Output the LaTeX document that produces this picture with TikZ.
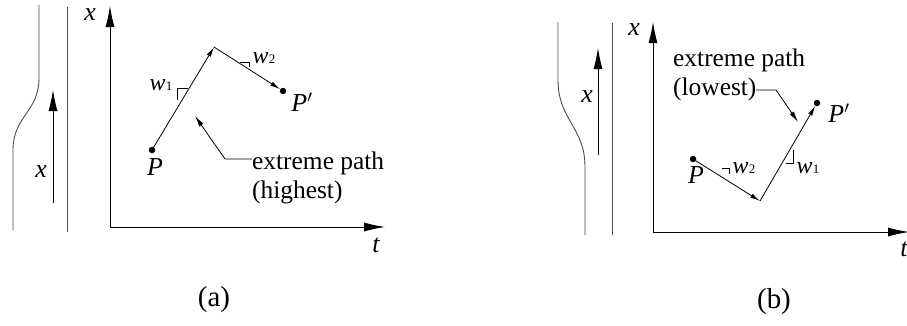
\documentclass[tikz,border=0pt]{standalone}
\usepackage{fontspec}
\setmainfont{Liberation Serif}
\usetikzlibrary{arrows.meta}
\newcommand{\wsub}[1]{\textit{w}\kern0.5bp{\fontsize{13}{13}\selectfont #1}}
\begin{document}
\begin{tikzpicture}[x=1bp,y=-1bp,
  lbl/.style={font=\fontsize{25.5}{29}\selectfont, inner sep=0pt},
  ital/.style={font=\fontsize{26}{30}\selectfont\itshape, inner sep=0pt},
  wlbl/.style={font=\fontsize{24}{28}\selectfont, inner sep=0pt},
  captext/.style={font=\fontsize{29}{32}\selectfont, inner sep=0pt},
  road/.style={line width=0.9bp, black!70},
  axis/.style={line width=0.9bp, -{Latex[length=21bp,width=9bp]}},
  ray/.style={line width=0.8bp, -{Latex[length=10bp,width=4.5bp]}},
  leader/.style={line width=0.8bp, -{Latex[length=11bp,width=5bp]}},
  tick/.style={line width=0.7bp},
  dot/.style={circle, fill, inner sep=0pt, minimum size=6.5bp}]
\useasboundingbox (0,0) rectangle (907,325);

% ---------------- panel (a) ----------------
\draw[road] (39,5) -- (39,78) .. controls (39,112) and (13,116) .. (13,150) -- (13,230);
\draw[road] (67,7) -- (67,232);
\coordinate (ra0) at (53,203);
\coordinate (ra1) at (53,90);
\draw[axis] (ra0) -- (ra1);
\node[ital] (xra) at (41,172) {x};

\coordinate (oa) at (110,227);
\coordinate (ya) at (110,6);
\coordinate (xa) at (385,227);
\draw[axis] (oa) -- (ya);
\draw[axis] (oa) -- (xa);
\node[ital] (lxa) at (90,15) {x};
\node[ital] (lta) at (376,245) {t};

\node[dot] (Pa) at (152,150) {};
\coordinate (Ka) at (214,47);
\node[dot] (Qa) at (283,91) {};
\draw[ray] (Pa.center) -- (Ka);
\draw[ray] (Ka) -- (Qa);
\node[ital] (lPa) at (155,167) {P};
\node[ital] (lQa) at (302,102) {P$'$};

\draw[tick] (177,100) -- (177,88) -- (188,88);
\node[wlbl] (w1a) at (161,85) {\wsub{1}};
\draw[tick] (240,62) -- (249,62) -- (249,67);
\node[wlbl] (w2a) at (264,58) {\wsub{2}};

\node[lbl, align=left, anchor=north west] (ta) at (252,152) {extreme path\\(highest)};
\coordinate (la0) at (252,159);
\coordinate (la1) at (225,159);
\coordinate (la2) at (195,116);
\draw[leader] (la0) -- (la1) -- (la2);

\node[captext] (capa) at (214,300) {(a)};

% ---------------- panel (b) ----------------
\draw[road] (558,22) -- (558,80) .. controls (558,120) and (585,127) .. (585,167) -- (585,235);
\draw[road] (612,23) -- (612,235);
\coordinate (rb0) at (598,155);
\coordinate (rb1) at (598,48);
\draw[axis] (rb0) -- (rb1);
\node[ital] (xrb) at (587,97) {x};

\coordinate (ob) at (653,232);
\coordinate (yb) at (653,22);
\coordinate (xb) at (909,232);
\draw[axis] (ob) -- (yb);
\draw[axis] (ob) -- (xb);
\node[ital] (lxb) at (634,30) {x};
\node[ital] (ltb) at (904,249) {t};

\node[dot] (Pb) at (693,159) {};
\coordinate (Kb) at (760,201);
\node[dot] (Qb) at (817,103) {};
\draw[ray] (Pb.center) -- (Kb);
\draw[ray] (Kb) -- (Qb);
\node[ital] (lPb) at (696,175) {P};
\node[ital] (lQb) at (839,113) {P$'$};

\draw[tick] (722,168) -- (729,168) -- (729,174);
\node[wlbl] (w2b) at (744,168) {\wsub{2}};
\draw[tick] (793,150) -- (793,163) -- (786,163);
\node[wlbl] (w1b) at (808,168) {\wsub{1}};

\node[lbl, align=left, anchor=north west] (tb) at (673,49) {extreme path\\(lowest)};
\coordinate (lb0) at (756,90);
\coordinate (lb1) at (776,90);
\coordinate (lb2) at (798,122);
\draw[leader] (lb0) -- (lb1) -- (lb2);

\node[captext] (capb) at (774,302) {(b)};
\end{tikzpicture}
\end{document}
